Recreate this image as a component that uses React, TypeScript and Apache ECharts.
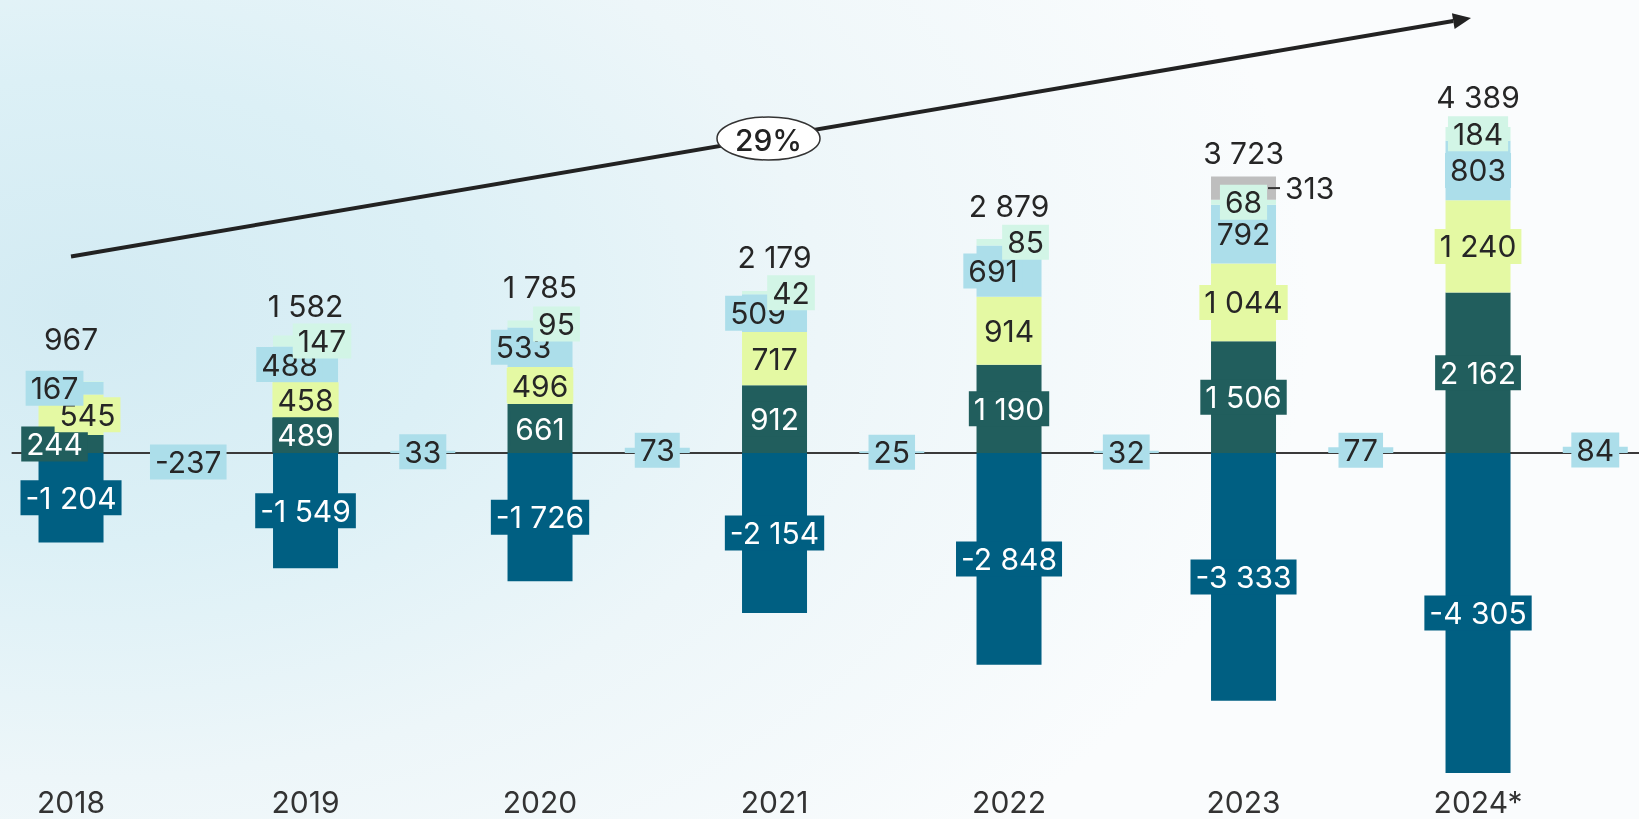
import React, { useEffect, useRef } from 'react';
import * as echarts from 'echarts';

const years = ['2018', '2019', '2020', '2021', '2022', '2023', '2024*'];
const costs = [-1204, -1549, -1726, -2154, -2848, -3333, -4305];
const segA = [244, 489, 661, 912, 1190, 1506, 2162];
const segB = [545, 458, 496, 717, 914, 1044, 1240];
const segC = [167, 488, 533, 509, 691, 792, 803];
const segD = [11, 147, 95, 42, 85, 68, 184];
const segE: (number | null)[] = [null, null, null, null, null, 313, null];
const totals = [967, 1582, 1785, 2179, 2879, 3723, 4389];
const gaps = [-237, 33, 73, 25, 32, 77, 84];
const cagr = '29%';

// label layout nudges (px)
const shiftA = [-16.5, 0, 0, 0, 0, 0, 0];
const shiftB = [16.5, 0, 0, 0, 0, 0, 0];
const shiftC = [-16.5, -16, -16.5, -16.5, -16, 0, 0];
const shiftD = [0, 16.5, 16.5, 16.5, 16.5, 0, 0];
const showD = [false, true, true, true, true, true, true];
const totalGap = [27, 14.5, 18.8, 19.3, 18.1, 8.8, 14.5];

const C = {
  blue: '#005f82',
  green: '#215e5d',
  yellow: '#e4f9a3',
  light: '#acdeea',
  mint: '#d2f5e6',
  gray: '#bebebe',
  text: '#262626',
};

const FONT = 'Inter';

const fmt = (v: number) => {
  const s = String(Math.abs(v)).replace(/\B(?=(\d{3})+(?!\d))/g, ' ');
  return v < 0 ? '-' + s : s;
};

const interleave = (arr: any[], atGap: boolean) => {
  const out: any[] = [];
  arr.forEach((v) => {
    if (atGap) {
      out.push(null, v);
    } else {
      out.push(v, null);
    }
  });
  return out;
};

const cats = years.flatMap((y) => [y, y + '_']);

const baseLabel = {
  show: true,
  position: 'inside',
  fontSize: 30,
  fontFamily: FONT,
  padding: [3, 5, 2, 5],
};

const segData = (vals: (number | null)[], shifts?: number[], shows?: boolean[]) =>
  interleave(
    vals.map((v, i) =>
      v == null
        ? null
        : {
            value: v,
            label: {
              offset: [shifts ? shifts[i] : 0, 0],
              show: shows ? shows[i] : true,
            },
          }
    ),
    false
  );

export default function App() {
  const ref = useRef<HTMLDivElement>(null);
  useEffect(() => {
    if (!ref.current) return;
    document.documentElement.style.overflow = 'hidden';
    document.body.style.overflow = 'hidden';
    const chart = echarts.init(ref.current, null, { renderer: 'svg' });

    const tip = [1471, 18];
    const start = [71, 256.5];
    const dx = tip[0] - start[0];
    const dy = tip[1] - start[1];
    const len = Math.hypot(dx, dy);
    const ux = dx / len, uy = dy / len;
    const nx = -uy, ny = ux;
    const headLen = 18, headHalf = 8;
    const bx = tip[0] - ux * headLen, by = tip[1] - uy * headLen;

    const option: any = {
      animation: false,
      backgroundColor: 'transparent',
      grid: { left: 12.4, top: 37, width: 1641.5, height: 743 },
      xAxis: [
        {
          type: 'category',
          data: cats,
          position: 'bottom',
          axisLine: { show: true, onZero: true, lineStyle: { color: '#3a3a3a', width: 2 } },
          axisTick: { show: false },
          axisLabel: { show: false },
          splitLine: { show: false },
        },
        {
          type: 'category',
          data: cats,
          position: 'bottom',
          axisLine: { show: false },
          axisTick: { show: false },
          splitLine: { show: false },
          axisLabel: {
            show: true,
            interval: 0,
            margin: 7,
            fontSize: 30,
            fontFamily: FONT,
            color: '#333',
            formatter: (v: string) => (v.endsWith('_') ? '' : v),
          },
        },
      ],
      yAxis: {
        type: 'value',
        min: -4400,
        max: 5600,
        show: false,
        splitLine: { show: false },
      },
      series: [
        {
          name: 'costs',
          type: 'bar',
          stack: 'main',
          barWidth: 65,
          barGap: '-100%',
          itemStyle: { color: C.blue },
          label: { ...baseLabel, color: '#fff', backgroundColor: C.blue, formatter: (p: any) => fmt(p.value) },
          data: segData(costs),
        },
        {
          name: 'A',
          type: 'bar',
          stack: 'main',
          barWidth: 65,
          itemStyle: { color: C.green },
          label: { ...baseLabel, color: '#fff', backgroundColor: C.green, formatter: (p: any) => fmt(p.value) },
          data: segData(segA, shiftA),
        },
        {
          name: 'B',
          type: 'bar',
          stack: 'main',
          barWidth: 65,
          itemStyle: { color: C.yellow },
          label: { ...baseLabel, color: C.text, backgroundColor: C.yellow, formatter: (p: any) => fmt(p.value) },
          data: segData(segB, shiftB),
        },
        {
          name: 'C',
          type: 'bar',
          stack: 'main',
          barWidth: 65,
          itemStyle: { color: C.light },
          label: { ...baseLabel, color: C.text, backgroundColor: C.light, formatter: (p: any) => fmt(p.value) },
          data: segData(segC, shiftC),
        },
        {
          name: 'D',
          type: 'bar',
          stack: 'main',
          barWidth: 65,
          itemStyle: { color: C.mint },
          label: { ...baseLabel, color: C.text, backgroundColor: C.mint, formatter: (p: any) => fmt(p.value) },
          data: segData(segD, shiftD, showD),
        },
        {
          name: 'E',
          type: 'bar',
          stack: 'main',
          barWidth: 65,
          itemStyle: { color: C.gray },
          label: {
            show: true,
            position: 'right',
            distance: -8,
            fontSize: 30,
            fontFamily: FONT,
            color: C.text,
            formatter: (p: any) => '{l| }{t|' + fmt(p.value) + '}',
            rich: {
              l: { width: 12, height: 2, backgroundColor: '#333', fontSize: 2, verticalAlign: 'middle' },
              t: { fontSize: 30, fontFamily: FONT, color: C.text, padding: [0, 0, 0, 5], verticalAlign: 'middle' },
            },
          },
          data: segData(segE),
        },
        {
          name: 'gaps',
          type: 'bar',
          stack: 'main',
          barWidth: 65,
          itemStyle: { color: C.light },
          label: { ...baseLabel, color: C.text, backgroundColor: C.light, formatter: (p: any) => fmt(p.value) },
          data: interleave(gaps, true),
        },
        {
          name: 'totals',
          type: 'bar',
          stack: 'tot',
          barWidth: 65,
          z: 0,
          silent: true,
          itemStyle: { color: 'rgba(0,0,0,0)' },
          label: {
            show: true,
            position: 'top',
            fontSize: 30,
            fontFamily: FONT,
            color: C.text,
            formatter: (p: any) => fmt(p.value),
          },
          data: interleave(
            totals.map((v, i) => ({ value: v, label: { distance: totalGap[i] } })),
            false
          ),
        },
      ],
      graphic: [
        {
          type: 'line',
          z: 100,
          shape: { x1: start[0], y1: start[1], x2: bx, y2: by },
          style: { stroke: '#222', lineWidth: 4 },
        },
        {
          type: 'polygon',
          z: 100,
          shape: {
            points: [
              [tip[0], tip[1]],
              [bx + nx * headHalf, by + ny * headHalf],
              [bx - nx * headHalf, by - ny * headHalf],
            ],
          },
          style: { fill: '#222' },
        },
        {
          type: 'ellipse',
          z: 101,
          shape: { cx: 768.5, cy: 138.5, rx: 51.5, ry: 21.5 },
          style: { fill: '#fff', stroke: '#333', lineWidth: 1.5 },
        },
        {
          type: 'text',
          z: 102,
          x: 768.5,
          y: 139.5,
          style: {
            text: cagr,
            fontSize: 30,
            fontWeight: 500,
            fontFamily: FONT,
            fill: '#222',
            align: 'center',
            verticalAlign: 'middle',
          },
        },
      ],
    };
    chart.setOption(option);
    return () => chart.dispose();
  }, []);

  return (
    <div
      style={{
        position: 'fixed',
        left: 0,
        top: 0,
        width: 1639,
        height: 819,
        overflow: 'hidden',
        background:
          'radial-gradient(ellipse 75% 95% at 5% 38%, #d3ebf3 0%, #dcf0f6 30%, #edf6f9 60%, #fafcfd 100%)',
      }}
    >
      <div ref={ref} style={{ position: 'absolute', left: 0, top: 0, width: 1660, height: 819 }} />
    </div>
  );
}
